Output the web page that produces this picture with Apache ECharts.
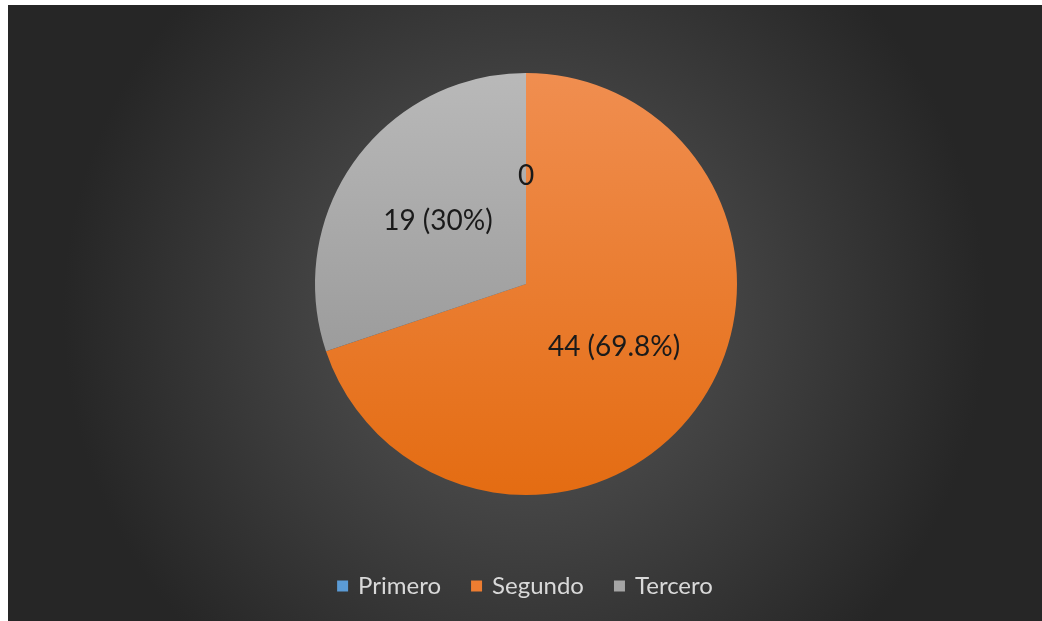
<!DOCTYPE html>
<html>
<head>
<meta charset="utf-8">
<script src="https://cdn.jsdelivr.net/npm/echarts@6/dist/echarts.min.js"></script>
<style>
  html, body { margin: 0; padding: 0; background: #ffffff; }
  #chart { position: absolute; left: 8px; top: 5px; width: 1034px; height: 616px; }
</style>
</head>
<body>
<div id="chart"></div>
<script>
// datos del gráfico
var categories = ['Primero', 'Segundo', 'Tercero'];
var values = [0, 44, 19];
var percentLabels = ['', '69.8%', '30%'];
var legendColors = ['#5B9BD5', '#ED7D31', '#A5A5A5'];

var chart = echarts.init(document.getElementById('chart'));

// gradientes de cada sector
var sliceColors = [
  '#5B9BD5',
  new echarts.graphic.LinearGradient(0, 0, 0, 1, [
    { offset: 0, color: '#F08E50' },
    { offset: 1, color: '#E46C12' }
  ]),
  new echarts.graphic.LinearGradient(0, 0, 0, 1, [
    { offset: 0, color: '#B9B9B9' },
    { offset: 1, color: '#9C9C9C' }
  ])
];

var option = {
  backgroundColor: new echarts.graphic.RadialGradient(0.5, 0.5, 0.75, [
    { offset: 0, color: '#5a5a5a' },
    { offset: 1, color: '#262626' }
  ]),
  legend: {
    bottom: 18,
    left: 'center',
    itemWidth: 11,
    itemHeight: 11,
    itemGap: 30,
    icon: 'rect',
    textStyle: {
      color: '#d9d9d9',
      fontSize: 24,
      fontFamily: 'Lato',
      padding: [0, 0, 0, 5]
    },
    data: categories.map(function (c, i) {
      return { name: c, itemStyle: { color: legendColors[i] } };
    })
  },
  series: [
    {
      type: 'pie',
      center: [518, 279],
      radius: [0, 211],
      startAngle: 90,
      clockwise: true,
      silent: true,
      label: {
        show: true,
        position: 'inside',
        color: '#1a1a1a',
        fontSize: 28,
        fontFamily: 'Lato',
        formatter: function (p) {
          if (p.value === 0) {
            return '0';
          }
          return p.value + ' (' + percentLabels[p.dataIndex] + ')';
        }
      },
      labelLine: { show: false },
      itemStyle: {
        borderWidth: 0
      },
      data: categories.map(function (c, i) {
        return {
          name: c,
          value: values[i],
          itemStyle: { color: sliceColors[i] }
        };
      })
    }
  ]
};

chart.setOption(option, true);
</script>
</body>
</html>
